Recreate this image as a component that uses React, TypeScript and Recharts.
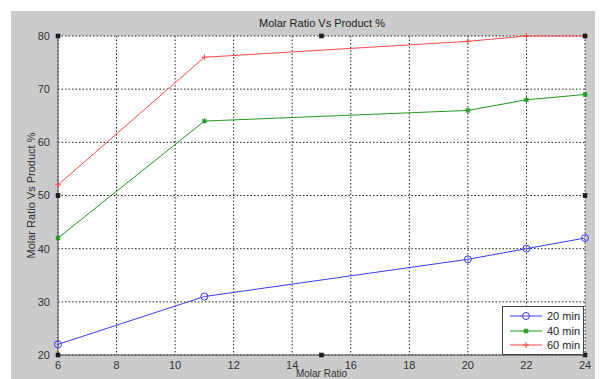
import * as React from "react";
import {
    LineChart,
    Line,
    XAxis,
    YAxis,
    CartesianGrid,
    ReferenceDot,
    Label,
} from "recharts";

const molarRatio = [6, 11, 20, 22, 24];
const product20 = [22, 31, 38, 40, 42];
const product40 = [42, 64, 66, 68, 69];
const product60 = [52, 76, 79, 80, 80];

const xTicks = [6, 8, 10, 12, 14, 16, 18, 20, 22, 24];
const yTicks = [20, 30, 40, 50, 60, 70, 80];

// little selection handles matlab leaves on the axes box
const handles = [
    [6, 20], [15, 20], [24, 20],
    [6, 50], [24, 50],
    [6, 80], [15, 80], [24, 80],
];

const SERIES = [
    { key: "m20", name: "20 min", color: "#3a3aff", marker: "circle" },
    { key: "m40", name: "40 min", color: "#1f9a1f", marker: "star" },
    { key: "m60", name: "60 min", color: "#ff4a4a", marker: "plus" },
];

const FONT = "'Liberation Sans', Arial, sans-serif";

const data = molarRatio.map((x, i) => ({
    x,
    m20: product20[i],
    m40: product40[i],
    m60: product60[i],
}));

function Marker({ cx, cy, kind, color }: any) {
    if (cx == null || cy == null) return null;
    if (kind === "circle") {
        return <circle cx={cx} cy={cy} r={3.5} fill="none" stroke={color} strokeWidth={1} />;
    }
    if (kind === "star") {
        return (
            <g stroke={color} strokeWidth={1.2}>
                <line x1={cx - 2.5} y1={cy} x2={cx + 2.5} y2={cy} />
                <line x1={cx} y1={cy - 2.5} x2={cx} y2={cy + 2.5} />
                <line x1={cx - 2} y1={cy - 2} x2={cx + 2} y2={cy + 2} />
                <line x1={cx - 2} y1={cy + 2} x2={cx + 2} y2={cy - 2} />
            </g>
        );
    }
    return (
        <g stroke={color} strokeWidth={1}>
            <line x1={cx - 3} y1={cy} x2={cx + 3} y2={cy} />
            <line x1={cx} y1={cy - 3} x2={cx} y2={cy + 3} />
        </g>
    );
}

function LegendBox() {
    return (
        <div
            style={{
                position: "absolute",
                left: 502,
                top: 306,
                width: 82,
                height: 49,
                background: "#fff",
                border: "1px solid #444",
                boxSizing: "border-box",
                fontFamily: FONT,
                fontSize: 11,
                color: "#222",
                padding: "2px 0 0 6px",
            }}
        >
            {SERIES.map((s) => (
                <div key={s.key} style={{ display: "flex", alignItems: "center", height: 14.5 }}>
                    <svg width={34} height={12}>
                        <line x1={1} y1={6} x2={33} y2={6} stroke={s.color} strokeWidth={1} />
                        <Marker cx={17} cy={6} kind={s.marker} color={s.color} />
                    </svg>
                    <span style={{ marginLeft: 4 }}>{s.name}</span>
                </div>
            ))}
        </div>
    );
}

export default function App() {
    return (
        <div style={{ position: "relative", width: 601, height: 379, background: "#fff", overflow: "hidden" }}>
            <style>{`body{margin:0}`}</style>
            <div
                style={{
                    position: "absolute",
                    left: 11,
                    top: 11,
                    width: 584,
                    height: 380,
                    background: "#cbcbcb",
                }}
            />
            <div style={{ position: "absolute", left: 58, top: 36, width: 527, height: 319, background: "#fff" }} />
            <div
                style={{
                    position: "absolute",
                    left: 0,
                    top: 17,
                    width: 644,
                    textAlign: "center",
                    fontFamily: FONT,
                    fontSize: 11,
                    color: "#222",
                }}
            >
                Molar Ratio Vs Product %
            </div>
            <div style={{ position: "absolute", left: 0, top: 0 }}>
                <LineChart
                    width={601}
                    height={379}
                    data={data}
                    margin={{ top: 36, right: 16, bottom: 0, left: 28 }}
                >
                    <CartesianGrid
                        stroke="#222"
                        strokeDasharray="1.5 2"
                        strokeWidth={1}
                        horizontalValues={yTicks}
                        verticalValues={xTicks}
                    />
                    <XAxis
                        dataKey="x"
                        type="number"
                        domain={[6, 24]}
                        ticks={xTicks}
                        tickLine={false}
                        axisLine={{ stroke: "#555" }}
                        height={24}
                        tick={{ fill: "#333", fontSize: 11, fontFamily: FONT }}
                        tickMargin={0}
                    >
                        <Label
                            value="Molar Ratio"
                            position="insideBottom"
                            offset={2}
                            style={{ fill: "#333", fontSize: 10, fontFamily: FONT }}
                        />
                    </XAxis>
                    <XAxis xAxisId="top" orientation="top" dataKey="x" type="number" domain={[6, 24]} height={0} tick={false} tickLine={false} axisLine={{ stroke: "#888" }} />
                    <YAxis
                        type="number"
                        domain={[20, 80]}
                        ticks={yTicks}
                        tickLine={false}
                        axisLine={{ stroke: "#555" }}
                        width={30}
                        tick={{ fill: "#333", fontSize: 11, fontFamily: FONT }}
                        tickMargin={2}
                    >
                        <Label
                            value="Molar Ratio Vs Product %"
                            angle={-90}
                            position="insideLeft"
                            offset={3}
                            style={{ textAnchor: "middle", fill: "#333", fontSize: 11, fontFamily: FONT }}
                        />
                    </YAxis>
                    <YAxis yAxisId="right" orientation="right" type="number" domain={[20, 80]} width={0} tick={false} tickLine={false} axisLine={{ stroke: "#555" }} />
                    {SERIES.map((s) => (
                        <Line
                            key={s.key}
                            dataKey={s.key}
                            name={s.name}
                            type="linear"
                            stroke={s.color}
                            strokeWidth={1}
                            isAnimationActive={false}
                            dot={(p: any) => <Marker key={`${s.key}-${p.index}`} cx={p.cx} cy={p.cy} kind={s.marker} color={s.color} />}
                            activeDot={false}
                        />
                    ))}
                    {handles.map(([hx, hy], i) => (
                        <ReferenceDot
                            key={i}
                            x={hx}
                            y={hy}
                            r={2}
                            shape={(p: any) => (
                                <rect x={p.cx - 2} y={p.cy - 2} width={4} height={4} fill="#222" stroke="#000" strokeWidth={0.5} />
                            )}
                        />
                    ))}
                </LineChart>
            </div>
            <LegendBox />
        </div>
    );
}
